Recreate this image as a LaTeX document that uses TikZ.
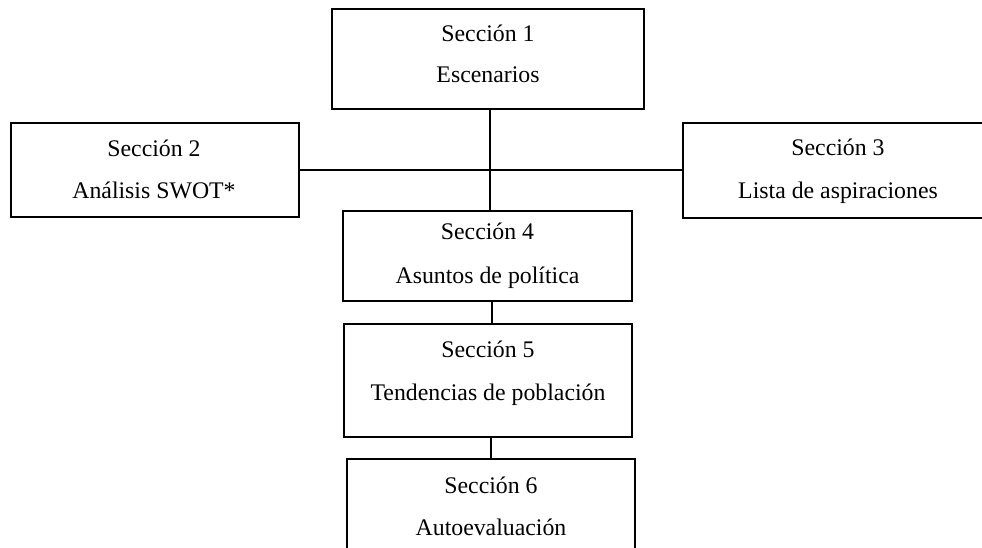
\documentclass[tikz,border=0pt]{standalone}
\usepackage{fontspec}
\setmainfont{Liberation Serif}
\begin{document}
\begin{tikzpicture}[x=1pt,y=-1pt,
  box/.style={draw,line width=1.4pt,inner sep=0pt},
  lbl/.style={anchor=base,inner sep=0pt,font=\fontsize{23.8}{28}\selectfont},
  conn/.style={line width=1.4pt}]
\useasboundingbox (0,0) rectangle (982,548);
\clip (0,0) rectangle (982,548);
\newcommand{\mybox}[5]{\node[box,minimum width={#4-#2},minimum height={#5-#3}] (#1) at ({(#2+#4)/2},{(#3+#5)/2}) {};}
\mybox{b1}{332}{9}{644}{109}
\mybox{b2}{11}{123}{299}{217}
\mybox{b3}{683}{123}{993}{218}
\mybox{b4}{343}{211}{632}{301}
\mybox{b5}{344}{324}{632}{437}
\mybox{b6}{347}{459}{635}{570}
\node[lbl] (t1a) at (488,42) {Sección 1};
\node[lbl] (t1b) at (488,83) {Escenarios};
\node[lbl] (t2a) at (154,157) {Sección 2};
\node[lbl] (t2b) at (154,199) {Análisis SWOT*};
\node[lbl] (t3a) at (838,156) {Sección 3};
\node[lbl] (t3b) at (838,199) {Lista de aspiraciones};
\node[lbl] (t4a) at (487.5,240) {Sección 4};
\node[lbl] (t4b) at (487.5,283) {Asuntos de política};
\node[lbl] (t5a) at (488,357) {Sección 5};
\node[lbl] (t5b) at (488,400) {Tendencias de población};
\node[lbl] (t6a) at (491,493) {Sección 6};
\node[lbl] (t6b) at (491,535) {Autoevaluación};
\coordinate (c1) at (490,109);
\coordinate (c4) at (490,211);
\draw[conn] (c1) -- (c4);
\draw[conn] (b2.east) -- (b2.east -| b3.west);
\coordinate (c4b) at (492,301);
\coordinate (c5t) at (492,324);
\draw[conn] (c4b) -- (c5t);
\coordinate (c5b) at (491,437);
\coordinate (c6t) at (491,459);
\draw[conn] (c5b) -- (c6t);
\end{tikzpicture}
\end{document}
